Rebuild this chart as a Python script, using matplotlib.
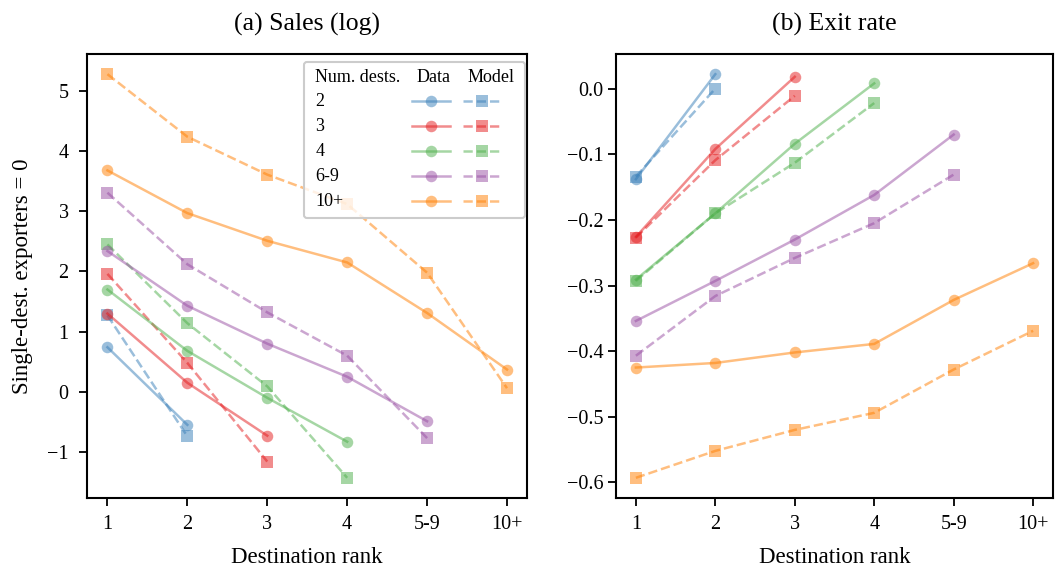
import matplotlib
matplotlib.use("Agg")
import matplotlib.pyplot as plt
from matplotlib.lines import Line2D
from matplotlib.text import Text
from matplotlib.offsetbox import AnchoredOffsetbox, DrawingArea, HPacker, VPacker

plt.rcParams["font.family"] = ["Liberation Serif", "DejaVu Serif"]
plt.rcParams["axes.linewidth"] = 1.5
plt.rcParams["xtick.major.width"] = 1.3
plt.rcParams["ytick.major.width"] = 1.3
plt.rcParams["xtick.major.size"] = 5.5
plt.rcParams["ytick.major.size"] = 5.5

# destination rank on the x axis, exporter groups by number of destinations
ranks = ["1", "2", "3", "4", "5-9", "10+"]
groups = ["2", "3", "4", "6-9", "10+"]
colors = ["#377eb8", "#e41a1c", "#4daf4a", "#984ea3", "#ff7f00"]

# (a) log sales relative to single-destination exporters
sales_data = [
    [0.74, -0.55],
    [1.30, 0.15, -0.73],
    [1.70, 0.68, -0.10, -0.83],
    [2.34, 1.43, 0.80, 0.25, -0.49],
    [3.68, 2.97, 2.51, 2.15, 1.31, 0.37],
]
sales_model = [
    [1.27, -0.74],
    [1.96, 0.48, -1.16],
    [2.45, 1.14, 0.09, -1.43],
    [3.31, 2.12, 1.32, 0.60, -0.77],
    [5.28, 4.24, 3.61, 3.12, 1.98, 0.06],
]

# (b) exit rate relative to single-destination exporters
exit_data = [
    [-0.138, 0.022],
    [-0.226, -0.092, 0.018],
    [-0.291, -0.190, -0.084, 0.008],
    [-0.354, -0.293, -0.230, -0.162, -0.070],
    [-0.425, -0.418, -0.402, -0.389, -0.322, -0.266],
]
exit_model = [
    [-0.134, 0.000],
    [-0.227, -0.109, -0.011],
    [-0.293, -0.190, -0.113, -0.022],
    [-0.407, -0.316, -0.258, -0.205, -0.131],
    [-0.593, -0.552, -0.520, -0.494, -0.428, -0.369],
]

ALPHA = 0.5
LW = 1.8
MS = 8.3


def plot_panel(ax, data, model, title):
    xpos = list(range(1, len(ranks) + 1))
    for d, m, c in zip(data, model, colors):
        ax.plot(xpos[:len(d)], d, "-o", color=c, alpha=ALPHA, lw=LW, ms=MS, mew=0)
        ax.plot(xpos[:len(m)], m, "--s", color=c, alpha=ALPHA, lw=LW, ms=MS, mew=0)
    ax.set_xticks(xpos)
    ax.set_xticklabels(ranks)
    ax.set_xlabel("Destination rank", fontsize=16.5, labelpad=9)
    ax.set_title(title, fontsize=18.5, pad=17)
    ax.tick_params(labelsize=14.5)
    ax.tick_params(axis="x", pad=7)


def legend_table(ax):
    # header row plus one row per group: label, data handle, model handle
    fs = 13
    widths = [74.5, 36.7, 41]
    head_h, row_h = 16, 18
    hl = 27
    rows = []
    cells = []
    for i, (w, s) in enumerate(zip(widths, ["Num. dests.", "Data", "Model"])):
        da = DrawingArea(w, head_h, clip=False)
        da.add_artist(Text(4.6 if i == 0 else 3.3, head_h / 2, s, ha="left",
                           va="center", fontsize=fs))
        cells.append(da)
    rows.append(HPacker(pad=0, sep=0, children=cells))
    for g, c in zip(groups, colors):
        label = DrawingArea(widths[0], row_h, clip=False)
        label.add_artist(Text(4.6, row_h / 2, g, ha="left", va="center", fontsize=fs))
        cells = [label]
        for w, ls, mk in [(widths[1], "-", "o"), (widths[2], "--", "s")]:
            da = DrawingArea(w, row_h, clip=False)
            da.add_artist(Line2D([0, hl], [row_h / 2] * 2, ls=ls, color=c,
                                 alpha=ALPHA, lw=LW))
            da.add_artist(Line2D([hl / 2], [row_h / 2], marker=mk, ls="none",
                                 color=c, alpha=ALPHA, ms=MS, mew=0))
            cells.append(da)
        rows.append(HPacker(pad=0, sep=0, children=cells))
    box = VPacker(pad=0, sep=0, children=rows)
    anchored = AnchoredOffsetbox(loc="upper right", child=box, pad=0.3,
                                 borderpad=0, frameon=True, prop=dict(size=11),
                                 bbox_to_anchor=(0.995, 0.982),
                                 bbox_transform=ax.transAxes)
    anchored.patch.set_boxstyle("round,pad=0,rounding_size=0.2")
    anchored.patch.set_facecolor((1, 1, 1, 0.8))
    anchored.patch.set_edgecolor("0.8")
    anchored.patch.set_linewidth(1.5)
    ax.add_artist(anchored)


fig = plt.figure(figsize=(10.55, 5.72), dpi=100)
ax1 = fig.add_axes([0.0829, 0.1294, 0.4166, 0.7762])
ax2 = fig.add_axes([0.5839, 0.1294, 0.4142, 0.7762])

plot_panel(ax1, sales_data, sales_model, "(a) Sales (log)")
plot_panel(ax2, exit_data, exit_model, "(b) Exit rate")
ax1.tick_params(axis="y", pad=8)
ax1.set_ylabel("Single-dest. exporters = 0", fontsize=16.5, labelpad=10)
legend_table(ax1)

fig.savefig("out.png", dpi=100)
